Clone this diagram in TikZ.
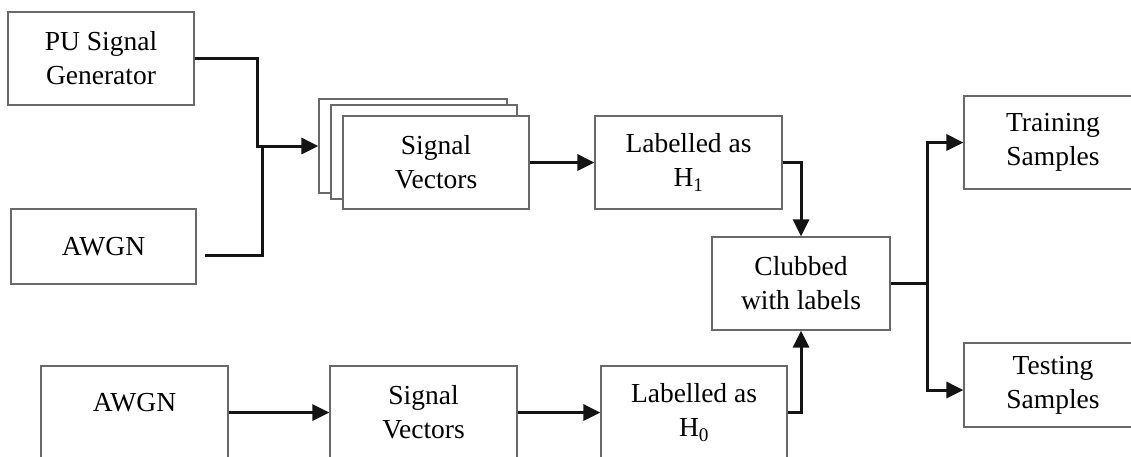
\documentclass[tikz,border=0pt]{standalone}
\usepackage{fontspec}
\setmainfont{Liberation Serif}
\usetikzlibrary{arrows.meta}
\definecolor{boxgray}{RGB}{105,105,105}
\definecolor{linek}{RGB}{20,20,20}
\tikzset{
  blk/.style={draw=boxgray, line width=1.2pt, fill=white, inner sep=0pt,
    align=center, font=\fontsize{27.5}{34}\selectfont},
  conn/.style={draw=linek, line width=3pt},
  arr/.style={conn, -{Triangle[length=17pt,width=16pt]}},
}
\begin{document}
\begin{tikzpicture}[x=1pt,y=-1pt]
\clip (0,0) rectangle (1131,456);
\fill[white] (0,0) rectangle (1131,456);
% top-left sources
\node[blk, minimum width=186pt, minimum height=93pt] (pu) at (101,58.5) {PU Signal\\Generator};
\node[blk, minimum width=185pt, minimum height=75pt] (awgn1) at (103.5,246.5) {AWGN};
% stacked signal vectors
\node[blk, minimum width=188pt, minimum height=94pt] (back) at (413,146) {};
\node[blk, minimum width=186pt, minimum height=94pt] (mid) at (424,152) {};
\node[blk, minimum width=186pt, minimum height=93pt] (front) at (436,162.5) {Signal\\Vectors};
\node[blk, minimum width=187pt, minimum height=93pt] (h1) at (688.5,162.5) {Labelled as\\H\textsubscript{1}};
\node[blk, minimum width=178pt, minimum height=93pt] (club) at (801,283.5) {Clubbed\\with labels};
\node[blk, minimum width=178pt, minimum height=93pt] (train) at (1053,142.5) {Training\\Samples};
\node[blk, minimum width=178pt, minimum height=84pt] (test) at (1053,385) {Testing\\Samples};
% bottom row
\node[blk, minimum width=187pt, minimum height=93pt,
  label={[font=\fontsize{27.5}{34}\selectfont, yshift=10pt]center:AWGN}] (awgn2) at (134.5,412.5) {};
\node[blk, minimum width=187pt, minimum height=93pt] (sv2) at (423.5,412.5) {Signal\\Vectors};
\node[blk, minimum width=186pt, minimum height=93pt] (h0) at (694,412.5) {Labelled as\\H\textsubscript{0}};
% junction coordinates
\coordinate (m1) at (257,146);
\coordinate (m2) at (262,146);
\coordinate (j) at (927,283.5);
% connectors
\draw[arr] (pu.east) -| (m1) -- (back.west);
\draw[conn] ([xshift=8pt,yshift=-8.5pt]awgn1.east) -| (m2);
\draw[arr] (front.east) -- (h1.west);
\draw[arr] (h1.east) -| (club.north);
\draw[arr] (h0.east) -| (club.south);
\draw[conn] (club.east) -- (j);
\draw[arr] (j) |- (train.west);
\draw[arr] (j) |- ([yshift=-5pt]test.west);
\draw[arr] (awgn2.east) -- (sv2.west);
\draw[arr] (sv2.east) -- (h0.west);
\end{tikzpicture}
\end{document}
